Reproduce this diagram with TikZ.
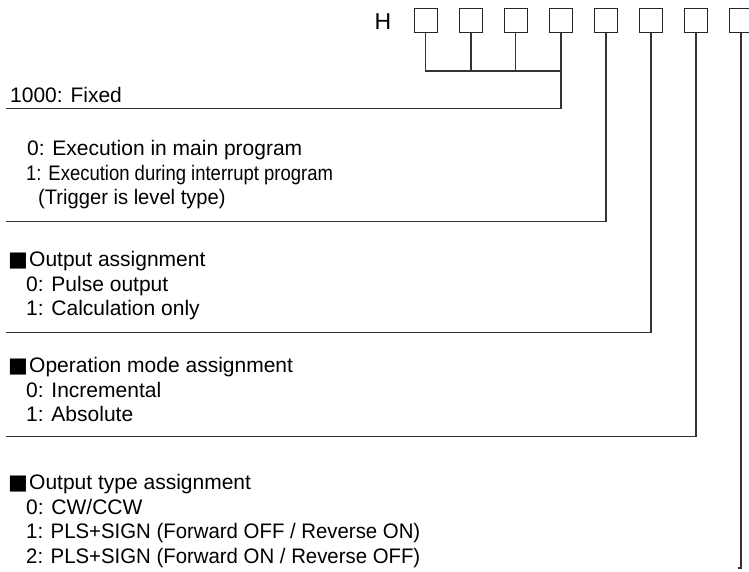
\documentclass[tikz,border=0pt]{standalone}
\usepackage{fontspec}
\usepackage{graphicx}
\setmainfont{Liberation Sans}
\newfontfamily\symfont{DejaVu Sans}
\tikzset{
  cell/.style={draw=black!85, line width=1.4pt, minimum width=23pt, minimum height=24pt, inner sep=0pt},
  conn/.style={draw=black!80, line width=1.3pt},
  txt/.style={anchor=base west, inner sep=0pt, font=\fontsize{21}{24}\selectfont},
  bullet/.style={anchor=base west, inner sep=0pt, font=\symfont\fontsize{21}{24}\selectfont}
}
\begin{document}
\begin{tikzpicture}[x=1pt,y=-1pt]
\useasboundingbox (0,0) rectangle (749,571);
\clip (0,0) rectangle (749,571);
% header
\node[txt, font=\fontsize{23}{24}\selectfont] (h) at (374.5,29.5) {H};
\foreach \i/\x in {1/425.8,2/471,3/515.7,4/561,5/606,6/651,7/696,8/741}
  \node[cell] (b\i) at (\x,20.5) {};
% free ends
\coordinate (j) at (0,71);
\coordinate (e1) at (6,108.3);
\coordinate (e2) at (6,221.7);
\coordinate (e3) at (6,332.3);
\coordinate (e4) at (6,436.7);
\coordinate (e5) at (738,568);
% connectors
\draw[conn] (b1.south) |- (b4.south |- j);
\draw[conn] (b2.south) -- (b2.south |- j);
\draw[conn] (b3.south) -- (b3.south |- j);
\draw[conn] (b4.south) |- (e1);
\draw[conn] (b5.south) |- (e2);
\draw[conn] (b6.south) |- (e3);
\draw[conn] (b7.south) |- (e4);
\draw[conn] (b8.south) |- (e5);
% group 1
\node[txt] (t1) at (10,102.5) {1000: Fixed};
% group 2
\node[txt] (t2a) at (27,155.5) {0: Execution in main program};
\node[txt] (t2b) at (26,180.5) {\scalebox{0.88}[1]{1: Execution during interrupt program}};
\node[txt] (t2c) at (38,204) {\scalebox{0.96}[1]{(Trigger is level type)}};
% group 3
\node[bullet] (s3) at (8,266.5) {■};
\node[txt] (t3) at (29,266.5) {Output assignment};
\node[txt] (t3a) at (26,291) {0: Pulse output};
\node[txt] (t3b) at (26,315.5) {1: Calculation only};
% group 4
\node[bullet] (s4) at (8,372.5) {■};
\node[txt] (t4) at (29,372.5) {Operation mode assignment};
\node[txt] (t4a) at (26,397) {0: Incremental};
\node[txt] (t4b) at (26,421.5) {1: Absolute};
% group 5
\node[bullet] (s5) at (8,489.5) {■};
\node[txt] (t5) at (29,489.5) {Output type assignment};
\node[txt] (t5a) at (26,514) {0: CW/CCW};
\node[txt] (t5b) at (26,538.5) {\scalebox{0.97}[1]{1: PLS+SIGN (Forward OFF / Reverse ON)}};
\node[txt] (t5c) at (26,563) {\scalebox{0.97}[1]{2: PLS+SIGN (Forward ON / Reverse OFF)}};
\end{tikzpicture}
\end{document}
